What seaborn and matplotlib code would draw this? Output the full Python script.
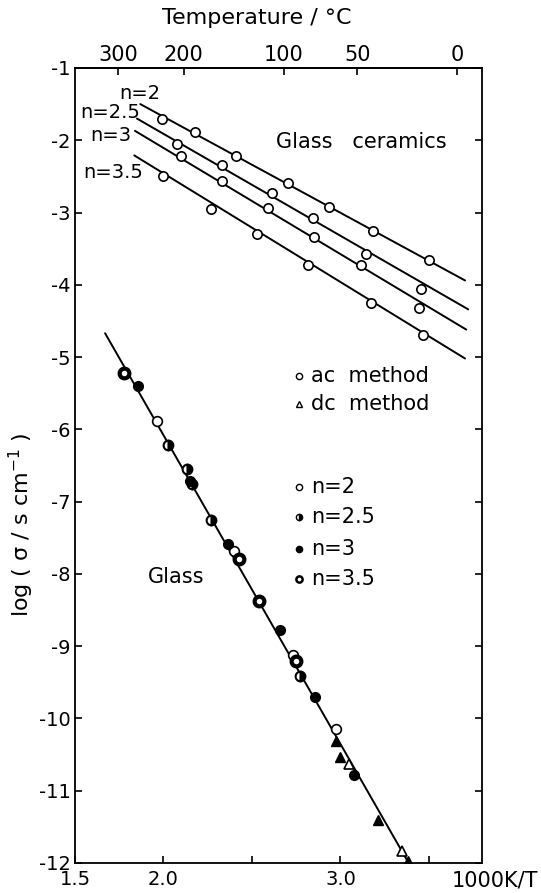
import numpy as np
import pandas as pd
import matplotlib
matplotlib.use("Agg")
import matplotlib.pyplot as plt
import seaborn as sns

# glass ceramics (ac method, open circles), one series per n
gc2_x = [1.992, 2.180, 2.412, 2.706, 2.934, 3.185, 3.501]
gc2_y = [-1.70, -1.89, -2.22, -2.59, -2.93, -3.26, -3.66]
gc25_x = [2.076, 2.329, 2.614, 2.843, 3.144, 3.453]
gc25_y = [-2.05, -2.34, -2.73, -3.07, -3.58, -4.06]
gc3_x = [2.097, 2.333, 2.588, 2.852, 3.114, 3.442]
gc3_y = [-2.22, -2.56, -2.94, -3.34, -3.73, -4.32]
gc35_x = [2.000, 2.267, 2.530, 2.815, 3.170, 3.464]
gc35_y = [-2.50, -2.95, -3.30, -3.72, -4.25, -4.69]

# fitted lines (end points)
fit_n = ["2", "2.5", "3", "3.5"]
fit_x0 = [1.869, 1.850, 1.839, 1.835]
fit_x1 = [3.704, 3.722, 3.711, 3.704]
fit_y0 = [-1.50, -1.70, -1.87, -2.21]
fit_y1 = [-3.94, -4.34, -4.62, -5.02]

# glass, ac method
g2_x = [1.962, 2.399, 2.730, 2.975]
g2_y = [-5.89, -7.69, -9.12, -10.15]
g25_x = [2.024, 2.131, 2.159, 2.269, 2.769]
g25_y = [-6.21, -6.55, -6.76, -7.26, -9.41]
g3_x = [1.857, 2.149, 2.367, 2.656, 2.857, 3.075]
g3_y = [-5.40, -6.72, -7.58, -8.78, -9.70, -10.78]
g35_x = [1.775, 2.426, 2.540, 2.749]
g35_y = [-5.22, -7.79, -8.37, -9.21]

# glass, dc method
dc_open_x = [3.048, 3.349]
dc_open_y = [-10.63, -11.83]
dc_full_x = [2.975, 2.999, 3.214, 3.380]
dc_full_y = [-10.31, -10.54, -11.40, -11.97]

glass_line_x = [1.67, 3.39]
glass_line_y = [-4.67, -12.02]

temp_ticks = [300, 200, 100, 50, 0]

sns.set_theme(style="ticks")
plt.rcParams["font.family"] = ["DejaVu Sans"]
plt.rcParams["axes.linewidth"] = 1.3
for k in ["text.color", "axes.labelcolor", "xtick.color", "ytick.color", "axes.edgecolor"]:
    plt.rcParams[k] = "black"

fig = plt.figure(figsize=(5.41, 8.93), dpi=100)
ax = fig.add_axes([0.1386, 0.0336, 0.7524, 0.8903])

lines = pd.DataFrame({
    "x": fit_x0 + fit_x1,
    "y": fit_y0 + fit_y1,
    "n": fit_n + fit_n,
})
sns.lineplot(data=lines, x="x", y="y", units="n", estimator=None,
             color="black", linewidth=1.4, ax=ax, legend=False)
sns.lineplot(x=glass_line_x, y=glass_line_y, color="black",
             linewidth=1.4, ax=ax)

gc = pd.DataFrame({"x": gc2_x + gc25_x + gc3_x + gc35_x,
                   "y": gc2_y + gc25_y + gc3_y + gc35_y})
sns.scatterplot(data=gc, x="x", y="y", color="white", edgecolor="black",
                linewidth=1.2, s=45, ax=ax, zorder=3)

mk = dict(linestyle="none", marker="o", markersize=7, color="black", zorder=3)
ax.plot(g2_x, g2_y, markerfacecolor="white", markeredgewidth=1.2, **mk)
ax.plot(g25_x, g25_y, fillstyle="right", markerfacecoloralt="white",
        markeredgewidth=1.5, **mk)
ax.plot(g3_x, g3_y, **mk)
ax.plot(g35_x, g35_y, markerfacecolor="white", markeredgewidth=3.0, **mk)
ax.plot(dc_open_x, dc_open_y, linestyle="none", marker="^", markersize=7,
        color="black", markerfacecolor="white", markeredgewidth=1.2, zorder=3)
ax.plot(dc_full_x, dc_full_y, linestyle="none", marker="^", markersize=7,
        color="black", zorder=3)

ax.set_xlim(1.5, 3.8)
ax.set_ylim(-12, -1)
ax.set_xticks([1.5, 2.0, 2.5, 3.0, 3.5])
ax.set_xticklabels(["1.5", "2.0", "", "3.0", ""])
ax.set_yticks(np.arange(-12, 0))
ax.set_yticklabels([str(v) for v in range(-12, 0)])
ax.tick_params(direction="in", length=5, width=1.2, labelsize=14,
               right=True, top=False, pad=3)
ax.tick_params(axis="x", pad=5)
ax.set_xlabel("")
ax.set_ylabel("log ( σ / s cm$^{-1}$ )", fontsize=16)
ax.yaxis.set_label_coords(-0.095, 0.425)
for s in ax.spines.values():
    s.set_visible(True)

sec = ax.secondary_xaxis("top", functions=(lambda x: 1000.0 / np.maximum(x, 1e-6) - 273.15,
                                           lambda t: 1000.0 / (np.asarray(t) + 273.15)))
sec.set_xticks(temp_ticks)
sec.set_xticklabels([str(t) for t in temp_ticks])
sec.tick_params(direction="in", length=5, width=1.2, labelsize=15, pad=2)

fs = 14
fig.text(257 / 541, 1 - 18 / 893, "Temperature / °C", fontsize=16, ha="center", va="center")
fig.text(538 / 541, 1 - 880 / 893, "1000K/T", fontsize=15, ha="right", va="center")
ax.text(1.865, -1.35, "n=2", fontsize=fs, ha="center", va="center")
ax.text(1.70, -1.62, "n=2.5", fontsize=fs, ha="center", va="center")
ax.text(1.70, -1.93, "n=3", fontsize=fs, ha="center", va="center")
ax.text(1.715, -2.45, "n=3.5", fontsize=fs, ha="center", va="center")
ax.text(3.12, -2.02, "Glass   ceramics", fontsize=15, ha="center", va="center")
ax.text(2.07, -8.04, "Glass", fontsize=15, ha="center", va="center")

sm = dict(linestyle="none", markersize=4.5, color="black")
ax.plot([2.767], [-5.26], marker="o", markerfacecolor="white", markeredgewidth=1, **sm)
ax.text(2.835, -5.26, "ac  method", fontsize=15, va="center")
ax.plot([2.767], [-5.65], marker="^", markerfacecolor="white", markeredgewidth=1, **sm)
ax.text(2.835, -5.65, "dc  method", fontsize=15, va="center")

leg_y = [-6.80, -7.21, -7.66, -8.07]
leg_lab = ["n=2", "n=2.5", "n=3", "n=3.5"]
ax.plot([2.767], [leg_y[0]], marker="o", markerfacecolor="white", markeredgewidth=1, **sm)
ax.plot([2.767], [leg_y[1]], marker="o", fillstyle="right", markerfacecoloralt="white",
        markeredgewidth=1, **sm)
ax.plot([2.767], [leg_y[2]], marker="o", **sm)
ax.plot([2.767], [leg_y[3]], marker="o", markerfacecolor="white", markeredgewidth=1.8, **sm)
for yy, lab in zip(leg_y, leg_lab):
    ax.text(2.835, yy, lab, fontsize=15, va="center")

fig.savefig("out.png", dpi=100)
